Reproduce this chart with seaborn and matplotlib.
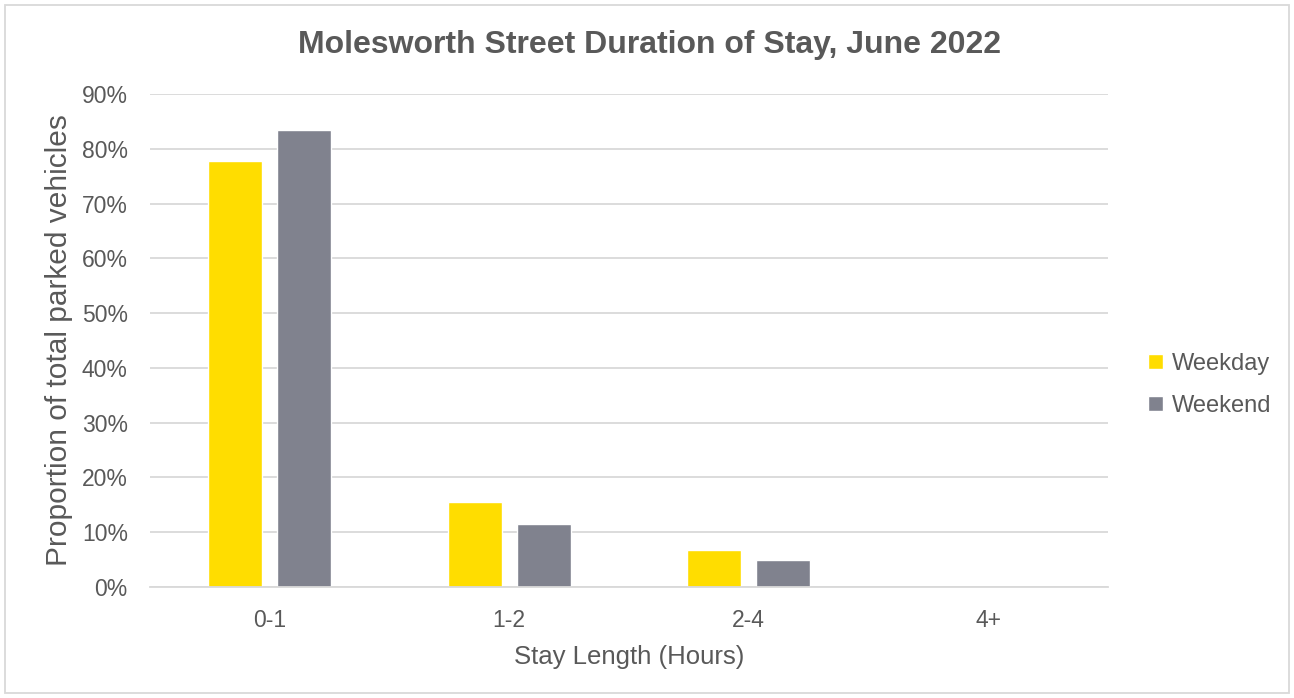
import matplotlib
matplotlib.use("Agg")
import matplotlib.pyplot as plt
from matplotlib.patches import Rectangle
from matplotlib.ticker import PercentFormatter, MultipleLocator
import seaborn as sns
import pandas as pd

# Share of parked vehicles by stay length (percent)
stay_lengths = ["0-1", "1-2", "2-4", "4+"]
weekday = [77.8, 15.5, 6.8, 0.0]
weekend = [83.4, 11.5, 4.9, 0.0]
series_names = ["Weekday", "Weekend"]
series_colors = ["#FFDD00", "#80828E"]

df = pd.DataFrame({
    "Stay": stay_lengths * 2,
    "Share": weekday + weekend,
    "Day": [series_names[0]] * len(stay_lengths) + [series_names[1]] * len(stay_lengths),
})

sns.set_theme(style="white")
plt.rcParams["font.family"] = ["Liberation Sans", "DejaVu Sans"]
text_color = "#595959"

fig = plt.figure(figsize=(12.94, 6.98), dpi=100)
ax = fig.add_axes([150 / 1294, 1 - 587 / 698, (1108 - 150) / 1294, (587 - 94) / 698])

sns.barplot(data=df, x="Stay", y="Share", hue="Day", order=stay_lengths,
            hue_order=series_names, palette=series_colors, width=0.576, gap=0.217,
            ax=ax, legend=True, saturation=1)

ax.set_ylim(0, 90)
ax.set_xlim(-0.5, len(stay_lengths) - 0.5)
ax.yaxis.set_major_locator(MultipleLocator(10))
ax.yaxis.set_major_formatter(PercentFormatter(decimals=0))
ax.grid(axis="y", color="#D9D9D9", linewidth=1.3)
ax.set_axisbelow(True)
for side in ["top", "right", "left"]:
    ax.spines[side].set_visible(False)
ax.spines["bottom"].set_color("#D9D9D9")
ax.spines["bottom"].set_linewidth(1.3)
ax.tick_params(axis="both", length=0, labelsize=16.5, colors=text_color)
ax.tick_params(axis="x", pad=16)
ax.tick_params(axis="y", pad=16)

ax.set_xlabel("Stay Length (Hours)", fontsize=18.5, color=text_color, labelpad=9)
ax.set_ylabel("Proportion of total parked vehicles", fontsize=21.5, color=text_color, labelpad=6)
fig.text(650 / 1294, 1 - 45 / 698, "Molesworth Street Duration of Stay, June 2022",
         ha="center", va="center", fontsize=23, fontweight="bold", color=text_color)

handles, labels = ax.get_legend_handles_labels()
ax.legend(handles, labels, loc="center left", bbox_to_anchor=(1.02, 0.41), frameon=False,
          fontsize=17, labelcolor=text_color, handlelength=0.6, handleheight=0.6,
          handletextpad=0.4, labelspacing=0.85)

fig.patches.append(Rectangle((5 / 1294, 5 / 698), 1284 / 1294, 688 / 698,
                             transform=fig.transFigure, fill=False,
                             edgecolor="#D9D9D9", linewidth=1.3))

fig.savefig("out.png", dpi=100, facecolor="white")
